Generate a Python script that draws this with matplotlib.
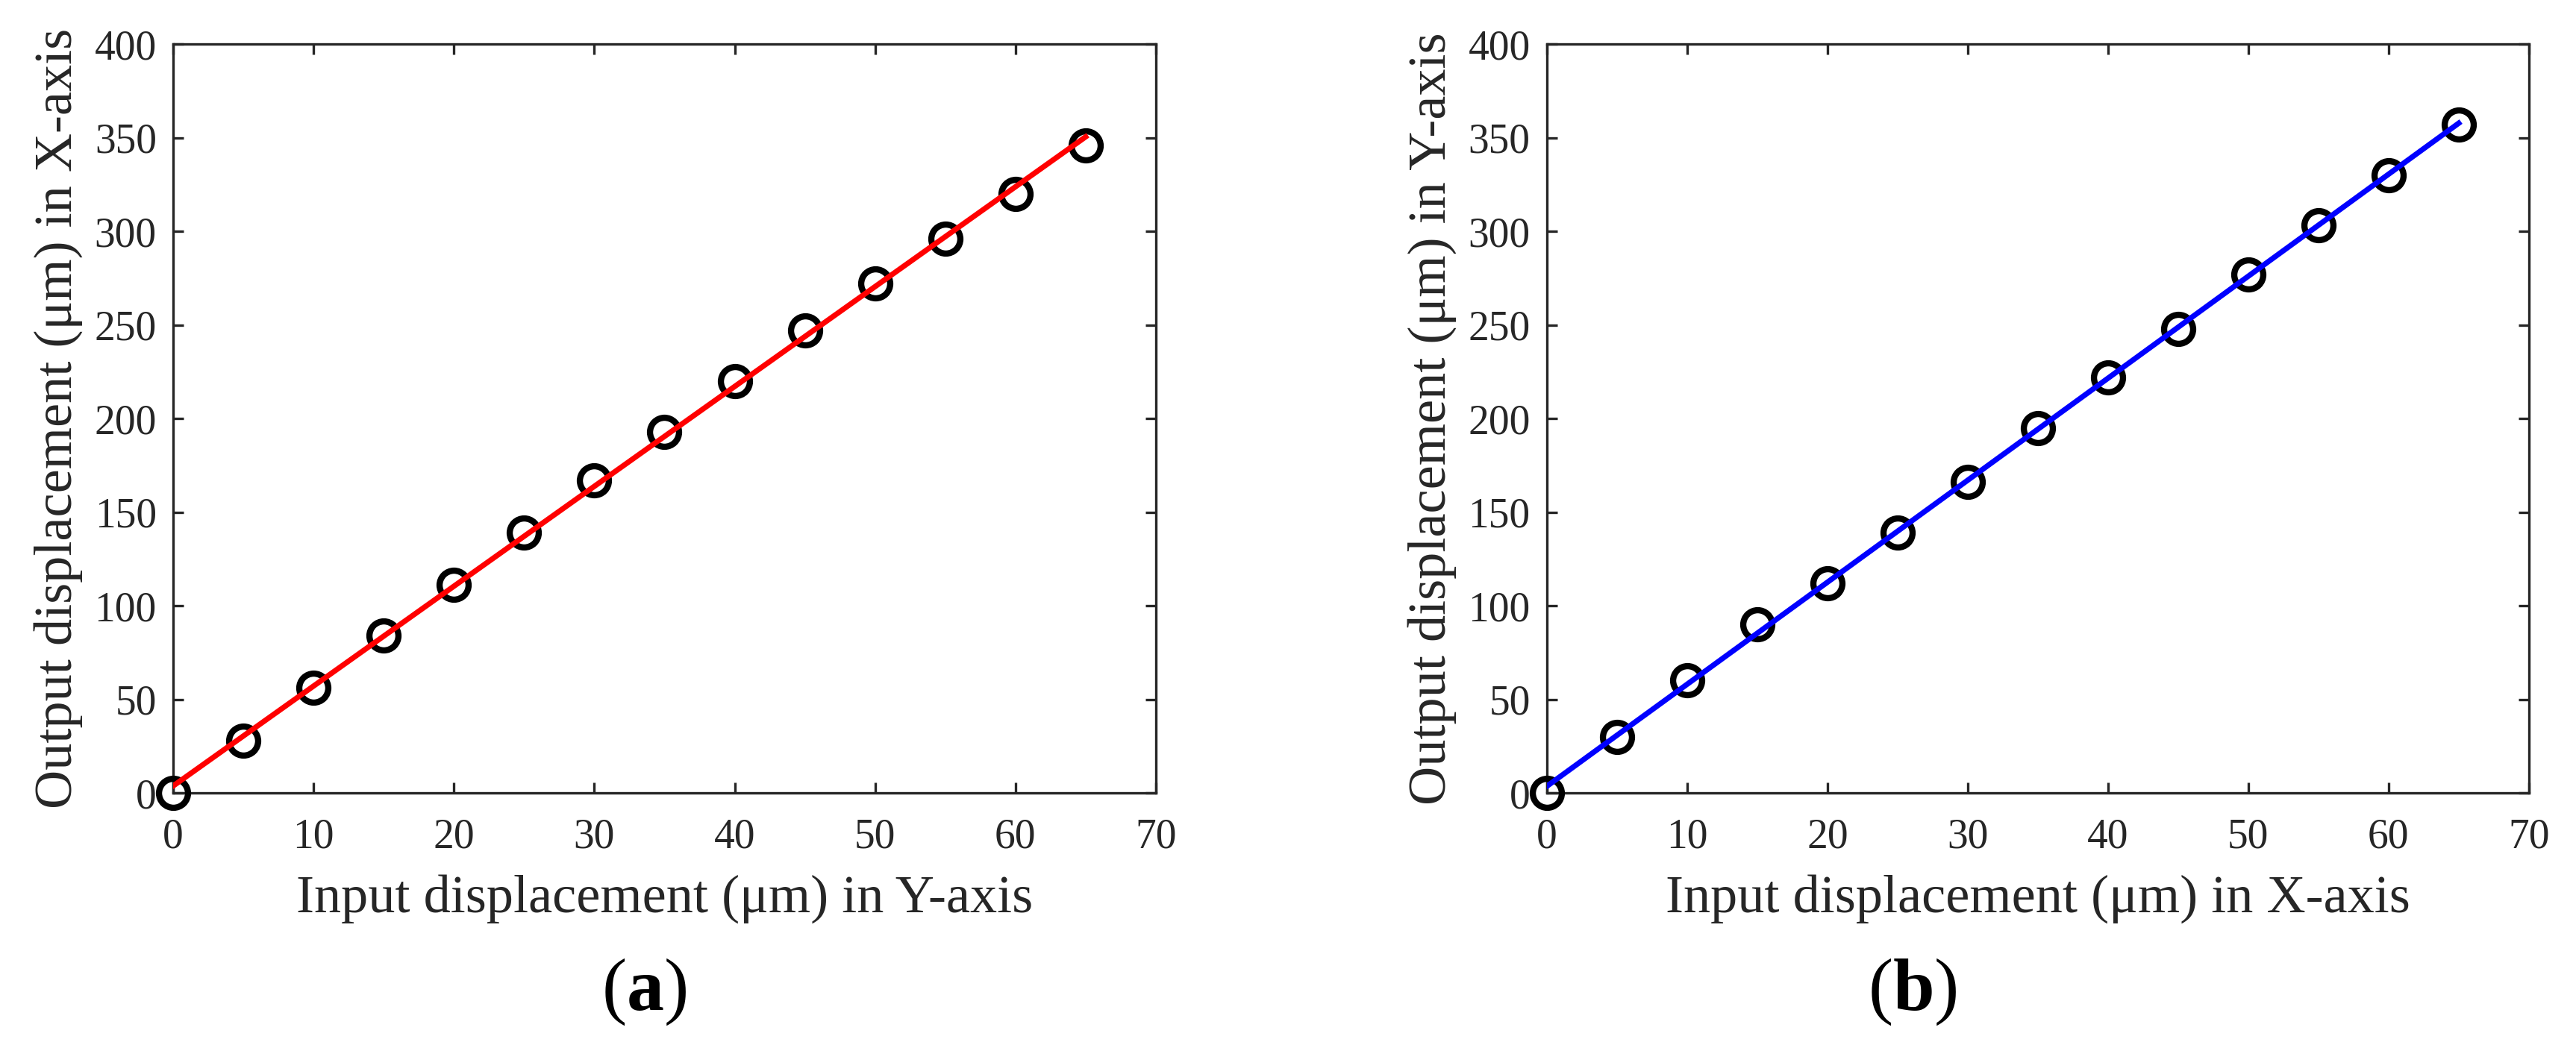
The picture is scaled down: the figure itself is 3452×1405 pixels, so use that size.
import numpy as np
import matplotlib
matplotlib.use("Agg")
import matplotlib.pyplot as plt

plt.rcParams['font.family'] = ['Liberation Serif', 'DejaVu Serif']
plt.rcParams['mathtext.fontset'] = 'custom'
plt.rcParams['mathtext.rm'] = 'Liberation Serif'
plt.rcParams['mathtext.bf'] = 'Liberation Serif:bold'

# input displacement (um)
x_in = [0, 5, 10, 15, 20, 25, 30, 35, 40, 45, 50, 55, 60, 65]
# (a) output in X-axis for input in Y-axis
out_a = [0, 28, 56, 84, 111, 139, 167, 193, 220, 247, 272, 296, 320, 346]
# (b) output in Y-axis for input in X-axis
out_b = [0, 30, 60, 90, 112, 139, 166, 195, 222, 248, 277, 303, 330, 357]

xticks = [0, 10, 20, 30, 40, 50, 60, 70]
yticks = [0, 50, 100, 150, 200, 250, 300, 350, 400]

panels = [
    ("Input displacement (μm) in Y-axis", "Output displacement (μm) in X-axis", out_a, "#ff0000", "a"),
    ("Input displacement (μm) in X-axis", "Output displacement (μm) in Y-axis", out_b, "#0000ff", "b"),
]

dark = "#262626"
fig = plt.figure(figsize=(17.26, 7.025), dpi=200)
rects = [[0.0672, 0.2434, 0.3815, 0.7146], [0.6005, 0.2434, 0.3812, 0.7146]]
letter_x = [0.250, 0.7425]

for rect, (xl, yl, yv, col, tag), lx in zip(rects, panels, letter_x):
    ax = fig.add_axes(rect)
    xs = np.array(x_in, dtype=float)
    k, b = np.polyfit(xs, np.array(yv, dtype=float), 1)
    ax.plot(xs, yv, linestyle="none", marker="o", markersize=14,
            markerfacecolor="none", markeredgecolor="black",
            markeredgewidth=3, clip_on=False, zorder=3)
    ax.plot([xs[0], xs[-1]], [k * xs[0] + b, k * xs[-1] + b], color=col,
            linewidth=2.6, zorder=4)

    ax.set_xlim(0, 70)
    ax.set_ylim(0, 400)
    ax.set_xticks(xticks)
    ax.set_yticks(yticks)
    ax.tick_params(direction="in", length=5, width=1.2, colors=dark,
                   labelsize=20, top=True, right=True)
    ax.tick_params(axis="x", pad=12)
    ax.tick_params(axis="y", pad=8)
    for sp in ax.spines.values():
        sp.set_color(dark)
        sp.set_linewidth(1.2)

    ax.set_xlabel(xl, fontsize=26, color=dark)
    ax.set_ylabel(yl, fontsize=26, color=dark)
    ax.xaxis.set_label_coords(0.5, -0.1086)
    ax.yaxis.set_label_coords(-0.092, 0.5)

    fig.text(lx, 0.0534, r"$(\mathbf{%s})$" % tag, fontsize=36,
             ha="center", va="center", color="black")

fig.savefig("out.png", dpi=200)
